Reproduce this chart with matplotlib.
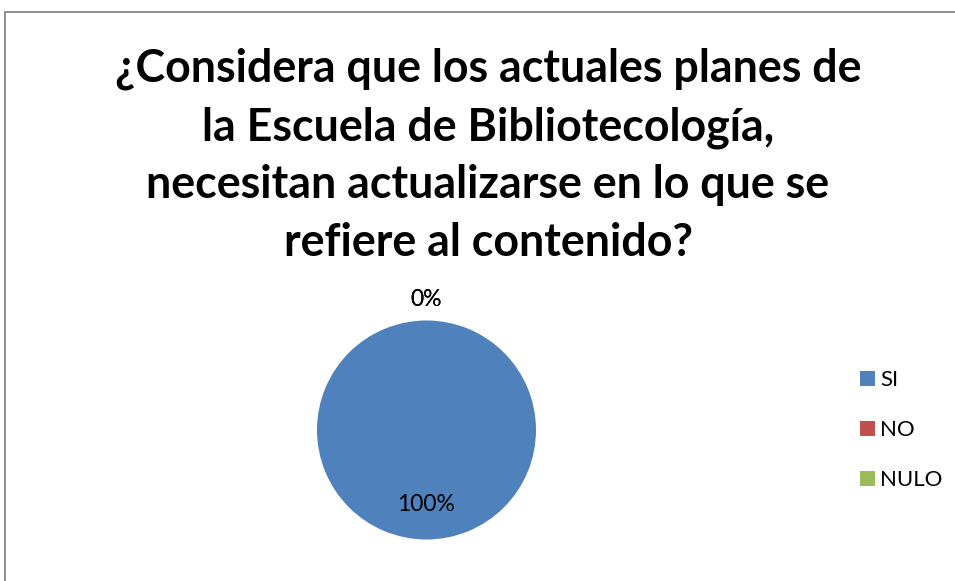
import numpy as np
import matplotlib.pyplot as plt
from matplotlib.patches import Patch, Rectangle

plt.rcParams['font.family'] = ['Lato', 'DejaVu Sans']

# data
categories = ['SI', 'NO', 'NULO']
values = [100, 0, 0]
colors = ['#4f81bd', '#c0504d', '#9bbb59']
title = ('¿Considera que los actuales planes de\n'
         'la Escuela de Bibliotecología,\n'
         'necesitan actualizarse en lo que se\n'
         'refiere al contenido?')

W, H = 955, 581
fig = plt.figure(figsize=(W / 100, H / 100), dpi=100)

# chart border
fig.patches.append(Rectangle((4.5 / W, -0.01), 1.0, (H - 12.5) / H + 0.01,
                             transform=fig.transFigure, fill=False,
                             edgecolor='#868686', linewidth=1.3))

# pie axes: centre (426.5, 430) px, radius 109.5 px
r_px = 109.5
half = 150
cx, cy = 426.5, H - 430
ax = fig.add_axes([(cx - half) / W, (cy - half) / H, 2 * half / W, 2 * half / H])
wedges, _ = ax.pie(values, colors=colors, startangle=90, counterclock=False,
                   radius=1.0, wedgeprops={'linewidth': 0})
lim = half / r_px
ax.set_xlim(-lim, lim)
ax.set_ylim(-lim, lim)
ax.set_aspect('equal')
ax.axis('off')

total = sum(values)
for w, v in zip(wedges, values):
    ang = np.deg2rad((w.theta1 + w.theta2) / 2)
    d = 0.68 if v > 0 else 1.19
    ax.text(d * np.cos(ang), d * np.sin(ang), f'{v / total * 100:.0f}%',
            ha='center', va='center', fontsize=16.5, color='black')

fig.text(488 / W, 1 - 156 / H, title, ha='center', va='center',
         fontsize=32.2, fontweight='bold', linespacing=1.47)

handles = [Patch(facecolor=c, edgecolor='none') for c in colors]
fig.legend(handles, categories, loc='center left',
           bbox_to_anchor=(849 / W, 1 - 430 / H), frameon=False,
           fontsize=16, handlelength=0.65, handleheight=0.65,
           handletextpad=0.25, labelspacing=1.35, borderpad=0)

fig.savefig('out.png', dpi=100)
